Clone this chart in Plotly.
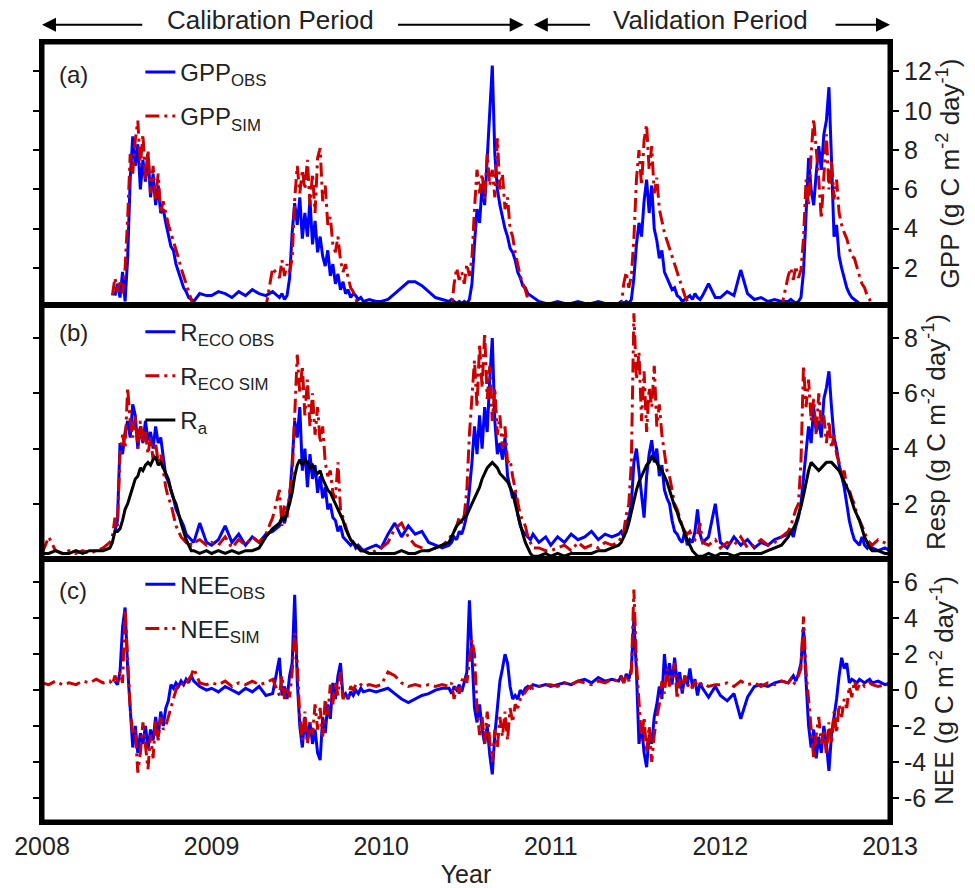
import plotly.graph_objects as go
from plotly.subplots import make_subplots

N = None
YEARS = [2008, 2009, 2010, 2011, 2012]
WINTER_FRACS = [0.00, 0.04, 0.08, 0.12, 0.16, 0.20, 0.24, 0.28, 0.32, 0.36]
SEASON_FRACS = [0.400, 0.415, 0.430, 0.445, 0.460, 0.475, 0.490, 0.505, 0.520, 0.535,
                0.550, 0.565, 0.580, 0.595, 0.610, 0.625, 0.640, 0.655, 0.670, 0.685,
                0.700, 0.715, 0.730, 0.745, 0.760, 0.775, 0.790, 0.805, 0.820, 0.835,
                0.850, 0.865, 0.880, 0.895]
LATE_FRACS = [0.93, 0.97]
T = [y + f for y in YEARS for f in WINTER_FRACS + SEASON_FRACS + LATE_FRACS] + [2013.0]

# ---- panel (a) GPP ----
GPP_OBS = (
    [N, N, N, N, N, N, N, N, N, N] + [N, N, 0.6, 1.2, 0.5, 1.8, 0.3, 2.5, 6.5, 8.7, 7.2, 8.3, 6.0, 7.5, 6.4, 7.8, 5.6, 6.8, 5.2, 6.2, 4.8, 5.0, 4.3, 3.6, 3.1, 2.9, 2.2, 1.8, 1.4, 1.0, 0.8, 0.5, 0.4, 0.3] + [0.7, 0.6] +
    [0.6, 0.8, 0.7, 0.5, 0.8, 0.6, 0.9, 0.7, 0.6, 0.8] + [0.5, 0.7, 0.4, 0.6, 1.5, 3.8, 5.3, 4.2, 5.6, 3.5, 4.8, 3.6, 5.5, 3.2, 4.4, 2.8, 3.6, 2.6, 2.1, 2.9, 1.6, 2.2, 1.2, 1.7, 0.9, 1.3, 0.7, 0.9, 0.5, 0.7, 0.6, 0.4, 0.5, 0.3] + [0.4, 0.3] +
    [0.3, 0.4, 0.7, 1.0, 1.3, 1.3, 1.1, 0.8, 0.5, 0.4] + [0.3, 0.4, 0.3, 0.2, 0.3, 0.2, 0.3, 0.2, 0.4, 1.2, 3.2, 5.0, 4.3, 6.2, 5.2, 7.4, 9.5, 12.3, 7.8, 6.0, 5.2, 4.6, 4.0, 3.6, 3.0, 2.8, 2.4, 1.8, 1.5, 1.1, 1.0, 0.7, 0.6, 0.5] + [0.3, 0.2] +
    [0.2, 0.3, 0.2, 0.2, 0.3, 0.2, 0.2, 0.3, 0.2, 0.2] + [0.2, 0.3, 0.2, 0.3, 0.2, 0.4, 1.5, 3.2, 4.3, 3.6, 5.4, 6.5, 4.8, 6.2, 4.0, 3.4, 2.5, 2.9, 1.8, 1.5, 1.2, 0.9, 1.0, 0.6, 0.5, 0.3, 0.4, 0.5, 0.6, 0.4, 0.7, 0.5, 0.4, 0.6] + [1.2, 0.5] +
    [0.5, 0.8, 0.6, 1.9, 0.7, 0.4, 0.5, 0.3, 0.4, 0.3] + [0.3, 0.4, 0.3, 0.2, 0.3, 0.5, 1.8, 4.5, 7.6, 6.0, 5.2, 6.8, 8.2, 7.0, 8.8, 9.5, 11.2, 7.5, 3.6, 4.2, 2.6, 2.0, 1.5, 1.0, 0.7, 0.5, 0.4, 0.3, 0.2, 0.2, 0.2, 0.2, 0.1, 0.1] + [0.1, 0.1] +
    [0.1]
)
GPP_SIM = (
    [N, N, N, N, N, N, N, N, N, N] + [N, 0.6, 1.5, 0.8, 1.4, 0.7, 2.0, 4.5, 7.8, 6.8, 8.5, 9.5, 7.2, 8.8, 6.5, 8.0, 5.8, 7.2, 5.5, 6.8, 4.8, 5.4, 4.8, 4.2, 3.8, 3.4, 2.9, 2.5, 2.0, 1.6, 1.1, 0.7, 0.3, 0.0] + [0.0, 0.0] +
    [0.0, 0.0, 0.0, 0.0, 0.0, 0.0, 0.0, 0.0, 0.0, 2.0] + [1.5, 2.4, 1.6, 2.2, 1.8, 2.5, 5.5, 7.2, 5.8, 7.0, 6.0, 7.5, 5.2, 6.8, 4.8, 7.6, 8.1, 5.4, 6.2, 4.2, 4.6, 3.2, 2.8, 3.6, 2.4, 1.8, 2.2, 1.5, 1.0, 0.8, 0.5, 0.0, 0.0, 0.0] + [0.0, 0.0] +
    [0.0, 0.0, 0.0, 0.0, 0.0, 0.0, 0.0, 0.0, 0.0, 0.0] + [0.0, 0.0, 1.2, 2.0, 1.4, 1.8, 1.2, 2.2, 1.6, 2.5, 5.0, 7.0, 5.8, 6.8, 5.5, 7.8, 6.2, 7.0, 5.6, 8.6, 6.0, 6.8, 5.0, 5.6, 4.0, 3.6, 2.8, 2.2, 1.6, 1.2, 0.9, 0.4, 0.0, 0.0] + [0.0, 0.0] +
    [0.0, 0.0, 0.0, 0.0, 0.0, 0.0, 0.0, 0.0, 0.0, 0.0] + [0.0, 0.0, 1.2, 1.8, 1.0, 1.6, 3.5, 6.5, 8.0, 6.2, 8.5, 9.3, 7.0, 8.2, 5.8, 6.6, 5.0, 4.4, 3.8, 3.4, 3.0, 2.6, 2.2, 1.8, 1.3, 0.9, 0.6, 0.3, 0.0, 0.0, 0.0, 0.0, 0.0, 0.0] + [0.0, 0.0] +
    [0.0, 0.0, 0.0, 0.0, 0.0, 0.0, 0.0, 0.0, 0.0, 0.0] + [1.6, 2.0, 1.4, 2.1, 1.5, 1.9, 3.5, 6.5, 5.2, 7.8, 9.6, 8.2, 6.5, 4.5, 7.0, 8.8, 6.0, 7.5, 5.5, 6.5, 4.8, 4.2, 3.8, 3.5, 3.0, 2.6, 2.5, 2.0, 1.6, 1.2, 1.0, 0.6, 0.4, 0.0] + [0.0, 0.0] +
    [0.0]
)

# ---- panel (b) respiration ----
RECO_OBS = (
    [N, N, N, N, N, N, N, N, N, N] + [N, N, 1.0, 1.4, 4.2, 3.8, 4.6, 5.0, 4.4, 5.6, 5.2, 4.0, 4.8, 4.2, 5.0, 4.3, 4.6, 4.0, 4.8, 4.2, 4.4, 3.6, 3.0, 2.8, 2.5, 2.2, 1.8, 1.6, 1.4, 1.2, 0.9, 0.8, 0.7, 0.6] + [1.3, 0.6] +
    [0.5, 0.7, 1.2, 0.6, 0.9, 0.5, 0.8, 0.6, 0.9, 1.0] + [1.2, 1.5, 1.3, 1.8, 2.2, 3.5, 5.0, 4.4, 5.5, 3.2, 4.0, 2.6, 3.8, 2.9, 3.4, 2.4, 3.0, 2.2, 2.6, 1.8, 2.0, 1.5, 1.4, 1.0, 1.2, 0.8, 0.7, 0.6, 0.5, 0.6, 0.4, 0.5, 0.4, 0.3] + [0.4, 0.5] +
    [0.4, 0.9, 1.3, 0.8, 1.2, 0.9, 1.0, 0.6, 0.5, 0.4] + [0.5, 0.6, 0.8, 0.7, 1.0, 0.9, 1.2, 1.6, 2.5, 3.5, 4.8, 3.8, 5.2, 4.0, 5.5, 4.6, 6.5, 8.0, 5.0, 3.8, 4.2, 3.6, 4.4, 3.0, 2.6, 2.2, 2.4, 1.6, 1.2, 1.0, 0.9, 0.8, 0.7, 0.9] + [0.6, 0.8] +
    [0.5, 0.8, 0.6, 0.9, 0.7, 0.8, 1.0, 0.7, 0.9, 0.8] + [0.9, 1.0, 0.8, 1.3, 1.5, 2.0, 3.5, 4.0, 3.2, 2.5, 1.5, 3.0, 3.8, 4.3, 3.5, 4.0, 3.0, 3.4, 2.5, 2.2, 2.0, 1.4, 1.0, 0.9, 0.7, 0.6, 1.0, 0.5, 0.7, 0.6, 1.0, 1.8, 0.9, 0.6] + [0.8, 2.0] +
    [0.6, 0.4, 0.8, 0.5, 0.7, 0.4, 0.6, 0.5, 0.7, 0.8] + [0.9, 1.0, 0.8, 1.2, 1.5, 2.0, 3.0, 4.0, 4.8, 4.2, 5.5, 4.6, 5.0, 4.4, 5.8, 6.2, 6.8, 5.5, 4.4, 4.0, 3.4, 3.0, 2.6, 2.0, 1.4, 1.0, 0.7, 0.6, 0.5, 0.8, 0.5, 0.4, 0.6, 0.4] + [0.3, 0.4] +
    [0.3]
)
RECO_SIM = (
    [0.2, 0.8, 0.3, 0.2, 0.3, 0.2, 0.3, 0.2, 0.3, 0.4] + [0.6, 0.8, 1.5, 1.2, 3.8, 4.5, 4.0, 6.2, 5.0, 4.4, 5.2, 4.0, 5.0, 4.2, 4.6, 3.8, 4.4, 3.6, 4.2, 3.5, 3.8, 3.2, 2.6, 2.2, 2.0, 1.6, 1.2, 1.0, 0.8, 0.7, 0.6, 0.7, 0.5, 0.6] + [0.7, 0.5] +
    [0.6, 0.5, 0.8, 0.4, 0.7, 0.5, 0.8, 0.6, 0.9, 1.5] + [2.5, 1.2, 2.0, 1.5, 2.4, 3.0, 5.5, 7.4, 6.0, 7.0, 5.2, 6.5, 4.8, 6.0, 4.5, 5.5, 4.2, 4.8, 3.5, 3.0, 3.2, 2.4, 2.2, 3.5, 1.8, 1.5, 1.2, 0.9, 0.7, 0.6, 0.5, 0.4, 0.3, 0.3] + [0.2, 0.3] +
    [0.4, 0.6, 1.1, 1.3, 0.8, 0.5, 0.4, 0.3, 0.4, 0.5] + [0.7, 0.9, 1.0, 1.2, 1.5, 1.3, 1.6, 2.5, 4.5, 6.0, 7.2, 5.5, 7.8, 6.2, 8.2, 5.8, 7.0, 5.0, 6.2, 4.5, 5.2, 4.0, 4.8, 3.5, 3.6, 3.0, 2.5, 2.0, 1.6, 1.4, 1.2, 0.8, 0.6, 0.4] + [0.4, 0.3] +
    [0.3, 0.4, 0.5, 0.3, 0.6, 0.4, 0.5, 0.4, 0.6, 0.5] + [0.6, 0.8, 1.0, 1.6, 2.0, 3.5, 8.9, 6.5, 7.5, 5.0, 6.8, 4.6, 6.2, 5.5, 7.0, 4.8, 5.6, 4.5, 3.8, 3.2, 3.0, 2.5, 2.0, 1.8, 1.5, 1.2, 1.0, 0.9, 1.0, 0.8, 0.7, 0.9, 1.3, 0.6] + [0.5, 0.7] +
    [0.4, 0.6, 0.5, 0.8, 0.4, 0.5, 0.7, 0.5, 0.6, 0.8] + [1.0, 1.2, 1.5, 1.8, 2.0, 3.5, 7.0, 5.5, 6.5, 5.0, 5.8, 4.5, 6.0, 4.8, 5.2, 4.2, 5.0, 4.0, 4.5, 3.8, 3.5, 3.0, 3.2, 2.6, 2.5, 2.2, 2.0, 1.6, 1.4, 1.2, 1.0, 0.7, 0.6, 0.5] + [0.7, 0.6] +
    [0.5]
)
RA = (
    [0.2, 0.2, 0.3, 0.2, 0.2, 0.3, 0.2, 0.3, 0.3, 0.3] + [0.4, 0.6, 1.0, 1.0, 1.1, 1.4, 1.8, 2.0, 2.3, 2.6, 2.9, 3.0, 3.3, 3.2, 3.4, 3.5, 3.4, 3.6, 3.7, 3.4, 3.5, 3.3, 3.1, 2.9, 2.5, 2.2, 2.0, 1.6, 1.3, 1.0, 0.7, 0.5, 0.3, 0.3] + [0.2, 0.3] +
    [0.2, 0.3, 0.2, 0.3, 0.2, 0.3, 0.3, 0.4, 0.8, 1.1] + [1.3, 1.5, 1.4, 1.7, 2.0, 2.4, 3.0, 3.4, 3.6, 3.4, 3.6, 3.5, 3.3, 3.4, 3.2, 3.1, 3.2, 2.9, 2.7, 2.5, 2.4, 2.2, 2.0, 1.8, 1.6, 1.4, 1.1, 0.9, 0.7, 0.6, 0.5, 0.4, 0.3, 0.3] + [0.2, 0.2] +
    [0.2, 0.2, 0.2, 0.3, 0.2, 0.2, 0.3, 0.3, 0.4, 0.5] + [0.6, 0.8, 1.0, 1.2, 1.3, 1.4, 1.5, 1.6, 1.8, 2.0, 2.2, 2.4, 2.6, 2.9, 3.1, 3.3, 3.4, 3.5, 3.4, 3.3, 3.1, 3.0, 2.9, 2.8, 2.6, 2.4, 2.0, 1.6, 1.2, 0.9, 0.6, 0.4, 0.2, 0.1] + [0.1, 0.2] +
    [0.1, 0.2, 0.1, 0.2, 0.2, 0.2, 0.2, 0.3, 0.3, 0.4] + [0.5, 0.6, 0.8, 1.0, 1.3, 1.7, 2.2, 2.5, 2.8, 3.0, 3.2, 3.4, 3.5, 3.7, 3.6, 3.5, 3.3, 3.2, 3.0, 2.8, 2.5, 2.2, 1.9, 1.7, 1.4, 1.2, 0.9, 0.7, 0.5, 0.3, 0.2, 0.1, 0.1, 0.1] + [0.2, 0.1] +
    [0.2, 0.2, 0.1, 0.2, 0.2, 0.2, 0.2, 0.3, 0.4, 0.5] + [0.8, 1.0, 1.1, 1.3, 1.6, 1.9, 2.3, 2.8, 3.2, 3.5, 3.4, 3.3, 3.2, 3.3, 3.4, 3.5, 3.5, 3.5, 3.4, 3.3, 3.2, 3.0, 2.8, 2.6, 2.4, 2.1, 1.8, 1.6, 1.4, 1.1, 0.8, 0.6, 0.4, 0.3] + [0.3, 0.2] +
    [0.2]
)

# ---- panel (c) NEE ----
NEE_OBS = (
    [N, N, N, N, N, N, N, N, N, N] + [N, N, 0.5, 0.3, 1.0, 3.5, 4.6, 1.2, -1.0, -3.2, -2.0, -3.5, -2.4, -3.0, -2.0, -3.3, -2.2, -2.8, -1.5, -2.6, -1.2, -2.0, -1.0, -0.6, 0.3, 0.1, 0.4, 0.2, 0.5, 0.3, 0.6, 0.4, 0.8, 0.5] + [0.2, 0.0] +
    [0.1, -0.1, 0.2, 0.0, -0.2, 0.1, -0.1, 0.2, -0.3, -0.2] + [1.8, -0.3, 0.2, -0.5, 0.8, 1.5, 5.3, 0.5, -2.0, -3.2, -1.5, -2.8, -1.8, -3.0, -2.2, -3.5, -3.9, -1.5, -2.4, -0.8, -1.6, 0.4, -0.5, 0.8, 1.5, -0.4, -0.2, -0.5, -0.1, -0.3, 0.0, -0.2, 0.1, -0.1] + [0.0, -0.1] +
    [0.0, 0.1, -0.2, -0.5, -0.7, -0.5, -0.3, -0.2, 0.0, 0.1] + [0.1, -0.2, 0.2, 0.0, 0.3, -0.1, 0.4, 1.0, 5.0, 2.0, -1.0, -1.8, -0.8, -2.2, -3.0, -2.0, -3.6, -4.7, -2.5, -1.0, 0.5, 1.2, 2.0, 1.5, 0.2, -0.5, -0.3, -0.5, 0.0, -0.2, 0.1, 0.2, 0.1, 0.3] + [0.2, 0.3] +
    [0.2, 0.3, 0.4, 0.3, 0.5, 0.6, 0.4, 0.7, 0.5, 0.6] + [0.5, 0.8, 0.4, 0.9, 0.6, 1.2, 4.0, 1.0, -3.0, -2.0, -3.5, -4.3, -2.5, -3.0, -1.5, -0.8, 0.2, -0.5, 2.0, 0.5, 1.5, 0.3, 1.8, 0.4, 1.0, -0.2, 0.8, 0.3, 1.2, 0.2, 0.6, -0.3, 0.4, 0.1] + [-0.4, 0.2] +
    [-0.3, -0.6, -0.2, -1.6, -0.4, 0.2, 0.3, 0.2, 0.4, 0.5] + [0.4, 0.6, 0.8, 0.5, 0.9, 1.5, 3.5, 0.5, -2.0, -3.2, -2.2, -3.8, -2.6, -3.5, -2.0, -3.0, -4.5, -2.5, -1.5, -0.5, 0.8, 1.8, 1.2, 1.5, 0.4, 0.6, 0.5, 0.4, 0.6, 0.5, 0.4, 0.5, 0.6, 0.4] + [0.5, 0.3] +
    [0.4]
)
NEE_SIM = (
    [0.4, 0.3, 0.5, 0.3, 0.4, 0.3, 0.5, 0.4, 0.6, 0.4] + [0.5, 0.3, 0.8, 0.5, 1.0, 0.4, 4.5, 1.5, -1.0, -2.5, -2.2, -4.6, -3.5, -1.8, -3.2, -4.4, -2.5, -3.8, -1.6, -2.8, -1.5, -2.2, -2.0, -1.5, -1.0, -0.5, 0.0, 0.3, 0.2, 0.5, 0.4, 0.6, 0.8, 1.2] + [0.4, 0.3] +
    [0.4, 0.3, 0.5, 0.2, 0.4, 0.3, 0.5, 0.3, 0.4, 0.6] + [-0.3, 0.8, -0.5, 0.2, -0.4, 1.0, 3.2, 1.5, -1.5, -2.8, -1.2, -3.0, -1.8, -2.5, -0.8, -2.2, -1.0, -2.6, -0.5, -1.4, 0.3, -0.8, 0.5, -0.3, 1.0, -0.5, -0.2, -0.4, 0.2, 0.0, 0.3, 0.2, 0.3, 0.2] + [0.3, 0.2] +
    [0.3, 1.0, 0.8, 0.4, 0.2, 0.3, 0.2, 0.3, 0.2, 0.3] + [0.2, 0.4, -0.5, 0.3, -0.2, 0.5, 0.8, 0.4, 1.5, 2.8, 2.0, -1.0, -2.5, -1.5, -3.0, -1.2, -2.8, -4.0, -2.2, -3.2, -1.5, -2.6, -1.2, -2.8, -1.0, -1.8, -0.8, -1.0, -0.5, -0.3, -0.1, 0.1, 0.2, 0.1] + [0.2, 0.3] +
    [0.3, 0.2, 0.4, 0.3, 0.5, 0.4, 0.3, 0.5, 0.4, 0.6] + [0.5, 0.7, 0.4, 0.8, 0.5, 1.0, 5.6, 1.5, -1.0, -2.8, -1.5, -3.5, -2.0, -4.0, -2.5, -1.5, -0.8, 0.5, -0.2, 1.2, 0.2, 0.8, 1.5, -0.5, 0.6, 0.0, 0.8, 0.2, 0.4, 0.1, 0.5, 0.2, 0.3, 0.4] + [0.2, 0.3] +
    [0.3, 0.4, 0.2, 0.5, 0.3, 0.4, 0.2, 0.4, 0.3, 0.5] + [0.4, 0.6, 0.3, 0.5, 0.8, 1.2, 4.1, 1.0, -0.5, -2.0, -3.8, -2.5, -1.5, -3.0, -2.2, -3.6, -1.8, -3.0, -1.2, -2.4, -0.8, -1.5, -0.5, -1.0, 0.2, -0.4, 0.5, 0.0, 0.3, 0.4, 0.2, 0.3, 0.4, 0.3] + [0.2, 0.3] +
    [0.3]
)

for _name, _arr in [("GPP_OBS", GPP_OBS), ("GPP_SIM", GPP_SIM), ("RECO_OBS", RECO_OBS),
                    ("RECO_SIM", RECO_SIM), ("RA", RA), ("NEE_OBS", NEE_OBS), ("NEE_SIM", NEE_SIM)]:
    assert len(_arr) == len(T), f"{_name}: {len(_arr)} vs {len(T)}"

X_TICKS = [2008, 2009, 2010, 2011, 2012, 2013]
GPP_TICKS = [2, 4, 6, 8, 10, 12]
RESP_TICKS = [2, 4, 6, 8]
NEE_TICKS = [-6, -4, -2, 0, 2, 4, 6]

BLUE = "#0000FF"
RED = "#CC0000"
BLACK = "#000000"
TXT = "#222222"
FONT = "Liberation Sans, Arial, sans-serif"
RED_DASH = "14px,5px,3px,5px"

fig = make_subplots(rows=3, cols=1, shared_xaxes=True, vertical_spacing=0,
                    row_heights=[263, 254, 263])

def add(y, name, color, dash, row, legend, group):
    fig.add_trace(go.Scatter(x=T, y=y, mode="lines", name=name,
                             line=dict(color=color, width=3, dash=dash),
                             legend=legend, legendgroup=group), row=row, col=1)

add(GPP_OBS, "GPP<sub>OBS</sub>", BLUE, "solid", 1, "legend", "g1")
add(GPP_SIM, "GPP<sub>SIM</sub>", RED, RED_DASH, 1, "legend", "g2")
add(RECO_OBS, "R<sub>ECO OBS</sub>", BLUE, "solid", 2, "legend2", "r1")
add(RECO_SIM, "R<sub>ECO SIM</sub>", RED, RED_DASH, 2, "legend2", "r2")
add(RA, "R<sub>a</sub>", BLACK, "solid", 2, "legend2", "r3")
add(NEE_OBS, "NEE<sub>OBS</sub>", BLUE, "solid", 3, "legend3", "n1")
add(NEE_SIM, "NEE<sub>SIM</sub>", RED, RED_DASH, 3, "legend3", "n2")

leg_common = dict(xanchor="left", yanchor="top", bgcolor="rgba(0,0,0,0)",
                  font=dict(family=FONT, size=24, color=TXT), tracegroupgap=10,
                  itemwidth=30)
fig.update_layout(
    width=975, height=888,
    margin=dict(l=42, r=85, t=42, b=66),
    paper_bgcolor="white", plot_bgcolor="white",
    font=dict(family=FONT, size=24, color=TXT),
    legend=dict(x=0.116, y=0.99, **leg_common),
    legend2=dict(x=0.116, y=0.657, **leg_common),
    legend3=dict(x=0.116, y=0.333, **leg_common),
)

for r in (1, 2, 3):
    fig.update_xaxes(range=[2008, 2013], showline=True, mirror=True, linecolor=BLACK,
                     linewidth=3, showgrid=False, zeroline=False, ticks="",
                     row=r, col=1)
fig.update_xaxes(tickvals=X_TICKS, ticktext=[str(v) for v in X_TICKS],
                 title=dict(text="Year", font=dict(size=25), standoff=7),
                 tickfont=dict(size=25), automargin=False, row=3, col=1)

yax = [("GPP (g C m<sup>-2</sup> day<sup>-1</sup>)", [0.12, 13.5], GPP_TICKS),
       ("Resp (g C m<sup>-2</sup> day<sup>-1</sup>)", [0.0, 9.2], RESP_TICKS),
       ("NEE (g C m<sup>-2</sup> day<sup>-1</sup>)", [-7.35, 7.3], NEE_TICKS)]
for r, (title, rng, tv) in enumerate(yax, start=1):
    fig.update_yaxes(side="right", range=rng, tickvals=tv, ticktext=[str(v) for v in tv],
                     showline=True, mirror="ticks", linecolor=BLACK, linewidth=3,
                     ticks="outside", ticklen=6, tickwidth=2, tickcolor=BLACK,
                     showgrid=False, zeroline=False, automargin=False,
                     tickfont=dict(size=25),
                     title=dict(text=title, font=dict(size=26), standoff=8),
                     row=r, col=1)

# outer frame
fig.add_shape(type="rect", xref="paper", yref="paper", x0=0, x1=1, y0=0, y1=1,
              line=dict(color=BLACK, width=5))

# panel labels
for lab, yy in [("(a)", 0.958), ("(b)", 0.627), ("(c)", 0.297)]:
    fig.add_annotation(text=lab, xref="paper", yref="paper", x=0.018, y=yy,
                       xanchor="left", yanchor="middle", showarrow=False,
                       font=dict(size=24, color=TXT))

# period labels with arrows
CAL_START, CAL_END, VAL_START, VAL_END = 2008.0, 2010.84, 2010.90, 2013.0
fig.add_annotation(text="Calibration Period", xref="x", yref="paper", x=2009.345, y=1.028,
                   showarrow=False, font=dict(size=26, color=TXT), yanchor="middle")
fig.add_annotation(text="Validation Period", xref="x", yref="paper", x=2011.94, y=1.028,
                   showarrow=False, font=dict(size=26, color=TXT), yanchor="middle")
for head, tail in [(CAL_START, 2008.60), (CAL_END, 2010.09), (VAL_START, 2011.24), (VAL_END, 2012.67)]:
    fig.add_annotation(text="", xref="x", yref="paper", x=head, y=1.022,
                       axref="x", ayref="pixel", ax=tail, ay=0,
                       showarrow=True, arrowhead=2, arrowsize=1.4, arrowwidth=2,
                       arrowcolor=BLACK)

fig.write_html("out.html")
